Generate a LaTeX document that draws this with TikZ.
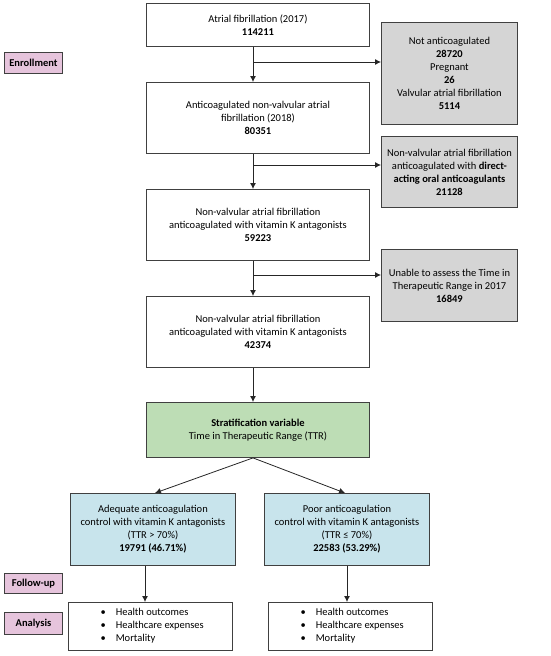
\documentclass[tikz,border=0pt]{standalone}
\usepackage{fontspec}
\setmainfont{Carlito}
\usetikzlibrary{arrows.meta,calc}
\definecolor{pinkf}{HTML}{E6C4DC}
\definecolor{grayf}{HTML}{D5D5D5}
\definecolor{greenf}{HTML}{BDDDB5}
\definecolor{bluef}{HTML}{C8E4EC}
\definecolor{edge}{HTML}{404040}
\tikzset{
  box/.style={draw=edge, line width=0.9pt, fill=white, align=center, font=\fontsize{10.5}{13}\selectfont, inner sep=0pt, anchor=north west},
  graybox/.style={box, fill=grayf},
  greenbox/.style={box, fill=greenf},
  bluebox/.style={box, fill=bluef},
  tag/.style={draw=edge, line width=0.9pt, fill=pinkf, align=center, font=\fontsize{10.5}{12}\selectfont\bfseries, inner sep=0pt, anchor=north west},
  arr/.style={draw=black!85, line width=0.8pt, -{Latex[length=6pt,width=6pt]}}
}
\begin{document}
\begin{tikzpicture}[x=1pt,y=-1pt]
\useasboundingbox (0,0) rectangle (550,656);
% main column
\node[box, minimum width=223pt, minimum height=43pt] (b1) at (146,3) {Atrial fibrillation (2017)\\\textbf{114211}};
\node[box, minimum width=223pt, minimum height=71pt] (b2) at (146,82) {Anticoagulated non-valvular atrial\\fibrillation (2018)\\\textbf{80351}};
\node[box, minimum width=223pt, minimum height=71pt] (b3) at (146,189) {Non-valvular atrial fibrillation\\anticoagulated with vitamin K antagonists\\\textbf{59223}};
\node[box, minimum width=223pt, minimum height=71pt] (b4) at (146,296) {Non-valvular atrial fibrillation\\anticoagulated with vitamin K antagonists\\\textbf{42374}};
\node[greenbox, minimum width=223pt, minimum height=55pt] (g) at (146,402) {\textbf{Stratification variable}\\Time in Therapeutic Range (TTR)};
% side boxes
\node[graybox, minimum width=136pt, minimum height=102pt] (s1) at (381,22) {Not anticoagulated\\\textbf{28720}\\Pregnant\\\textbf{26}\\Valvular atrial fibrillation\\\textbf{5114}};
\node[graybox, minimum width=136pt, minimum height=71pt] (s2) at (381,136) {Non-valvular atrial fibrillation\\anticoagulated with \textbf{direct-}\\\textbf{acting oral anticoagulants}\\\textbf{21128}};
\node[graybox, minimum width=136pt, minimum height=72pt] (s3) at (381,249) {Unable to assess the Time in\\Therapeutic Range in 2017\\\textbf{16849}};
% groups
\node[bluebox, minimum width=165pt, minimum height=72pt] (l) at (70,493) {Adequate anticoagulation\\control with vitamin K antagonists\\(TTR \textgreater{} 70\%)\\\textbf{19791 (46.71\%)}};
\node[bluebox, minimum width=165pt, minimum height=72pt] (r) at (264,493) {Poor anticoagulation\\control with vitamin K antagonists\\(TTR ≤ 70\%)\\\textbf{22583 (53.29\%)}};
\node[box, minimum width=164pt, minimum height=48pt] (la) at (68,602) {};
\node[box, minimum width=164pt, minimum height=48pt] (ra) at (268,602) {};
\node[align=left, anchor=west, font=\fontsize{10.5}{13}\selectfont] (lat) at (97,626) {\textbullet\hspace{10pt}Health outcomes\\\textbullet\hspace{10pt}Healthcare expenses\\\textbullet\hspace{10pt}Mortality};
\node[align=left, anchor=west, font=\fontsize{10.5}{13}\selectfont] (rat) at (297,626) {\textbullet\hspace{10pt}Health outcomes\\\textbullet\hspace{10pt}Healthcare expenses\\\textbullet\hspace{10pt}Mortality};
% tags
\node[tag, minimum width=58pt, minimum height=21pt] (t1) at (4,52) {Enrollment};
\node[tag, minimum width=58pt, minimum height=20pt] (t2) at (4,573) {Follow-up};
\node[tag, minimum width=58pt, minimum height=22pt] (t3) at (4,612) {Analysis};
% connectors
\coordinate (vx) at (253,0);
\coordinate (j1) at (253,62);
\coordinate (j2) at (253,165);
\coordinate (j3) at (253,275);
\draw[arr] (b1.south -| vx) -- (b2.north -| vx);
\draw[arr] (j1) -- (j1 -| s1.west);
\draw[arr] (b2.south -| vx) -- (b3.north -| vx);
\draw[arr] (j2) -- (j2 -| s2.west);
\draw[arr] (b3.south -| vx) -- (b4.north -| vx);
\draw[arr] (j3) -- (j3 -| s3.west);
\draw[arr] (b4.south -| vx) -- (g.north -| vx);
\coordinate (gs) at (g.south -| vx);
\draw[arr] (gs) -- (l.north -| 155,0);
\draw[arr] (gs) -- (r.north -| 345,0);
\draw[arr] (l.south -| 145,0) -- (la.north -| 145,0);
\draw[arr] (r.south -| 347,0) -- (ra.north -| 347,0);
\end{tikzpicture}
\end{document}
